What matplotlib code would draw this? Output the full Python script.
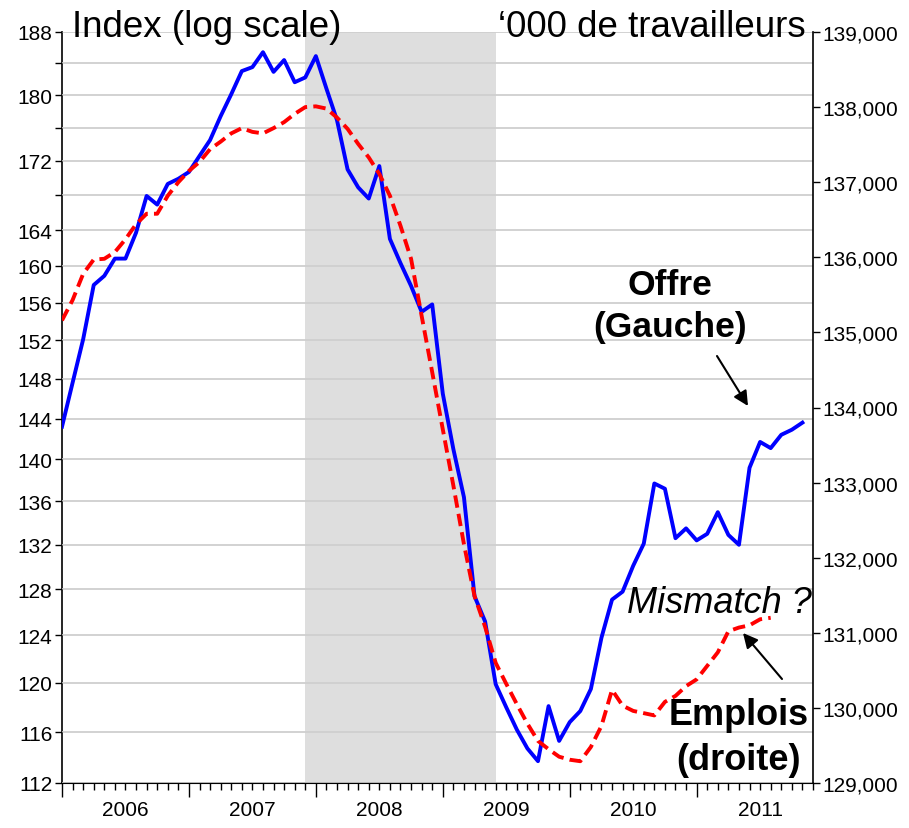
import matplotlib
matplotlib.use("Agg")
import matplotlib.pyplot as plt
import numpy as np
from matplotlib.ticker import FixedLocator, NullLocator

plt.rcParams['font.family'] = ['Liberation Sans', 'DejaVu Sans']

# Monthly data, Jan 2006 = month 0
# Job openings index (left axis, log scale)
offre = [143.2, 147.6, 152.1, 157.9, 158.9, 160.8, 160.8, 163.7, 167.9, 166.9,
         169.3, 169.9, 170.7, 172.6, 174.5, 177.4, 180.1, 183.0, 183.5, 185.4,
         182.9, 184.4, 181.6, 182.2, 184.9, 180.8, 176.9, 171.0, 168.9, 167.6,
         171.4, 163.0, 160.3, 157.8, 155.0, 155.8, 146.5, 141.0, 136.4, 127.4,
         125.2, 119.9, 118.0, 116.2, 114.7, 113.7, 118.1, 115.3, 116.8, 117.7,
         119.5, 123.8, 127.1, 127.8, 130.1, 132.1, 137.7, 137.2, 132.6, 133.5,
         132.4, 133.0, 135.0, 132.9, 132.0, 139.2, 141.7, 141.1, 142.4, 142.9,
         143.6]

# Employment, '000 workers (right axis)
emplois = [135160, 135430, 135780, 135970, 135980, 136070, 136240, 136440, 136580, 136580,
           136820, 137000, 137150, 137270, 137440, 137540, 137650, 137720, 137670, 137650,
           137720, 137800, 137910, 138000, 138010, 137980, 137860, 137710, 137510, 137330,
           137110, 136820, 136420, 135980, 135220, 134470, 133710, 132960, 132180, 131490,
           131080, 130600, 130320, 130050, 129790, 129560, 129450, 129350, 129310, 129290,
           129480, 129760, 130240, 130030, 129960, 129930, 129900, 130080, 130160, 130290,
           130380, 130560, 130740, 131020, 131070, 131100, 131180, 131200]

years = ['2006', '2007', '2008', '2009', '2010', '2011']
left_ticks = [112, 116, 120, 124, 128, 132, 136, 140, 144, 148, 152, 156, 160,
              164, 168, 172, 176, 180, 184, 188]
left_labels = [str(t) if t not in (168, 176, 184) else '' for t in left_ticks]
right_ticks = list(range(129000, 139001, 1000))
recession = (23, 41)  # Dec 2007 - Jun 2009

tick_size = 15

W, H = 909, 829
fig = plt.figure(figsize=(W / 100, H / 100), dpi=100)
ax1 = fig.add_axes([62 / W, 1 - 784 / H, (813 - 62) / W, (784 - 33) / H])

# recession shading
ax1.axvspan(recession[0], recession[1], color='#dedede', zorder=0, lw=0)

x1 = np.arange(len(offre))
ax1.plot(x1, offre, color='#0000ff', lw=2.8, zorder=3)

ax1.set_yscale('log')
ax1.set_ylim(112, 188)
ax1.yaxis.set_major_locator(FixedLocator(left_ticks))
ax1.yaxis.set_minor_locator(NullLocator())
ax1.set_yticklabels(left_labels, fontsize=tick_size)
ax1.grid(axis='y', color='#cfcfcf', lw=1.3, zorder=1)
ax1.set_axisbelow(False)

ax1.set_xlim(0, 71)
ax1.xaxis.set_major_locator(FixedLocator(np.arange(0, 72, 12)))
ax1.xaxis.set_minor_locator(FixedLocator(np.arange(0, 72, 1)))
ax1.set_xticklabels([])
ax1.tick_params(axis='x', which='major', length=10, width=1, direction='out')
ax1.tick_params(axis='x', which='minor', length=5, width=1, direction='out')
ax1.tick_params(axis='y', length=5, width=1, pad=2)
for i, yr in enumerate(years):
    ax1.text(i * 12 + 6, -0.022, yr, transform=ax1.get_xaxis_transform(),
             ha='center', va='top', fontsize=tick_size)

for s in ['top', 'right']:
    ax1.spines[s].set_visible(False)
ax1.spines['left'].set_linewidth(1.2)
ax1.spines['bottom'].set_linewidth(1.2)

# right axis: employment
ax2 = ax1.twinx()
x2 = np.arange(len(emplois))
ax2.plot(x2, emplois, color='#ff0000', lw=2.8, dashes=(3.2, 1.6), zorder=3)
ax2.set_ylim(129000, 139000)
ax2.yaxis.set_major_locator(FixedLocator(right_ticks))
ax2.set_yticklabels([f'{v:,}' for v in right_ticks], fontsize=tick_size)
ax2.tick_params(axis='y', length=5, width=1, pad=2)
ax2.spines['top'].set_visible(False)
ax2.spines['left'].set_visible(False)
ax2.spines['right'].set_linewidth(1.2)


def px(x, y):
    return (x / W, 1 - y / H)


fig.text(*px(72, 37), 'Index (log scale)', fontsize=26.5, va='baseline', ha='left')
fig.text(*px(806, 37), '\u2018000 de travailleurs', fontsize=26.5, va='baseline', ha='right')
fig.text(*px(670, 295), 'Offre', fontsize=25.5, fontweight='bold', va='baseline', ha='center')
fig.text(*px(670, 337), '(Gauche)', fontsize=25.5, fontweight='bold', va='baseline', ha='center')
fig.text(*px(627, 613), 'Mismatch ?', fontsize=26, fontstyle='italic', va='baseline', ha='left')
fig.text(*px(739, 725), 'Emplois', fontsize=26, fontweight='bold', va='baseline', ha='center')
fig.text(*px(739, 770), '(droite)', fontsize=26, fontweight='bold', va='baseline', ha='center')

arrow = dict(arrowstyle='-|>', color='black', lw=1.5, mutation_scale=22, shrinkA=0, shrinkB=0)
ax1.annotate('', xy=px(748, 407), xytext=px(717, 357), xycoords='figure fraction',
             textcoords='figure fraction', arrowprops=arrow, annotation_clip=False)
ax1.annotate('', xy=px(743, 634), xytext=px(782, 680), xycoords='figure fraction',
             textcoords='figure fraction', arrowprops=arrow, annotation_clip=False)

fig.savefig('out.png', dpi=100)
